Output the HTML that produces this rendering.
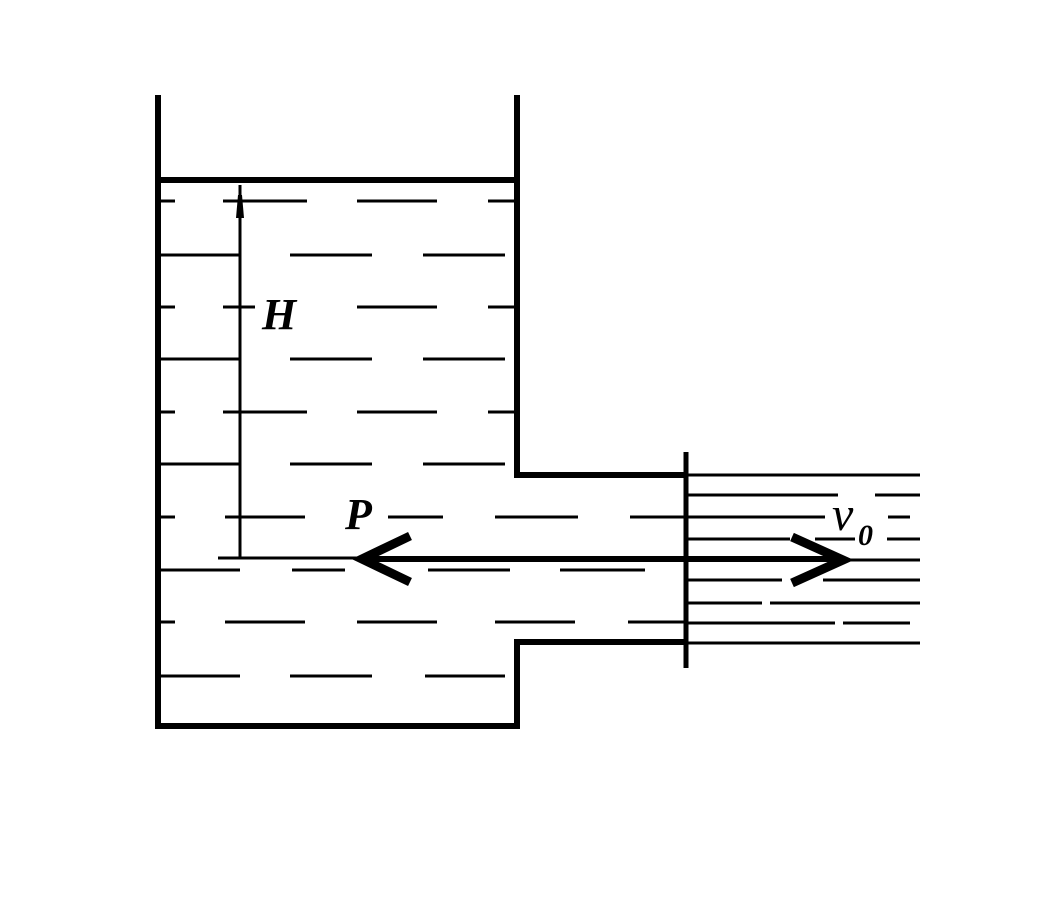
<!DOCTYPE html>
<html><head><style>html,body{margin:0;padding:0;background:#fff}svg{display:block}</style></head>
<body>
<svg width="1051" height="906" viewBox="0 0 1051 906" xmlns="http://www.w3.org/2000/svg">
<g stroke="#000" fill="none" stroke-linecap="butt">
<path d="M158 95 V726 H517 V642 H686" stroke-width="6"/>
<path d="M517 95 V475 H686" stroke-width="6"/>
<line x1="155" y1="180" x2="520" y2="180" stroke-width="6"/>
<line x1="686" y1="452" x2="686" y2="668" stroke-width="5"/>
<line x1="240" y1="185" x2="240" y2="558" stroke-width="3"/>
<polygon points="236,218 244,218 242,195 238,195" fill="#000" stroke="none"/>
<line x1="218" y1="558" x2="360" y2="558" stroke-width="3"/>
<g stroke-width="3">
<path d="M160 201H175M223 201H307M357 201H437M488 201H517"/>
<path d="M160 255H240M290 255H372M423 255H505"/>
<path d="M160 307H175M223 307H255M357 307H437M488 307H517"/>
<path d="M160 359H240M290 359H372M423 359H505"/>
<path d="M160 412H175M223 412H307M357 412H437M488 412H517"/>
<path d="M160 464H240M290 464H372M423 464H505"/>
<path d="M160 517H175M225 517H305M388 517H443M495 517H578M630 517H686"/>
<path d="M160 570H240M292 570H345M428 570H510M560 570H645"/>
<path d="M160 622H175M225 622H305M357 622H437M495 622H575M628 622H686"/>
<path d="M160 676H240M290 676H372M425 676H505"/>
<path d="M686 475H920M686 495H838M875 495H920M686 517H825M888 517H910M686 539H790M815 539H855M887 539H920M686 580H782M823 580H920M686 603H762M770 603H920M686 623H835M843 623H910M686 643H920"/>
<path d="M847 560H920" />
</g>
<line x1="360" y1="559" x2="845" y2="559" stroke-width="6"/>
<path d="M410 536 L362 559 L410 582" stroke-width="9" stroke-linejoin="miter"/>
<path d="M792 537 L843 560 L792 583" stroke-width="9" stroke-linejoin="miter"/>
</g>
<g font-family="Liberation Serif, serif" font-style="italic" font-weight="bold" fill="#000">
<text x="262" y="329" font-size="44">H</text>
<text x="345" y="529" font-size="44">P</text>
<text x="832" y="530" font-size="48" font-weight="normal">v</text>
<text x="858" y="545" font-size="30">0</text>
</g>
</svg>
</body></html>
